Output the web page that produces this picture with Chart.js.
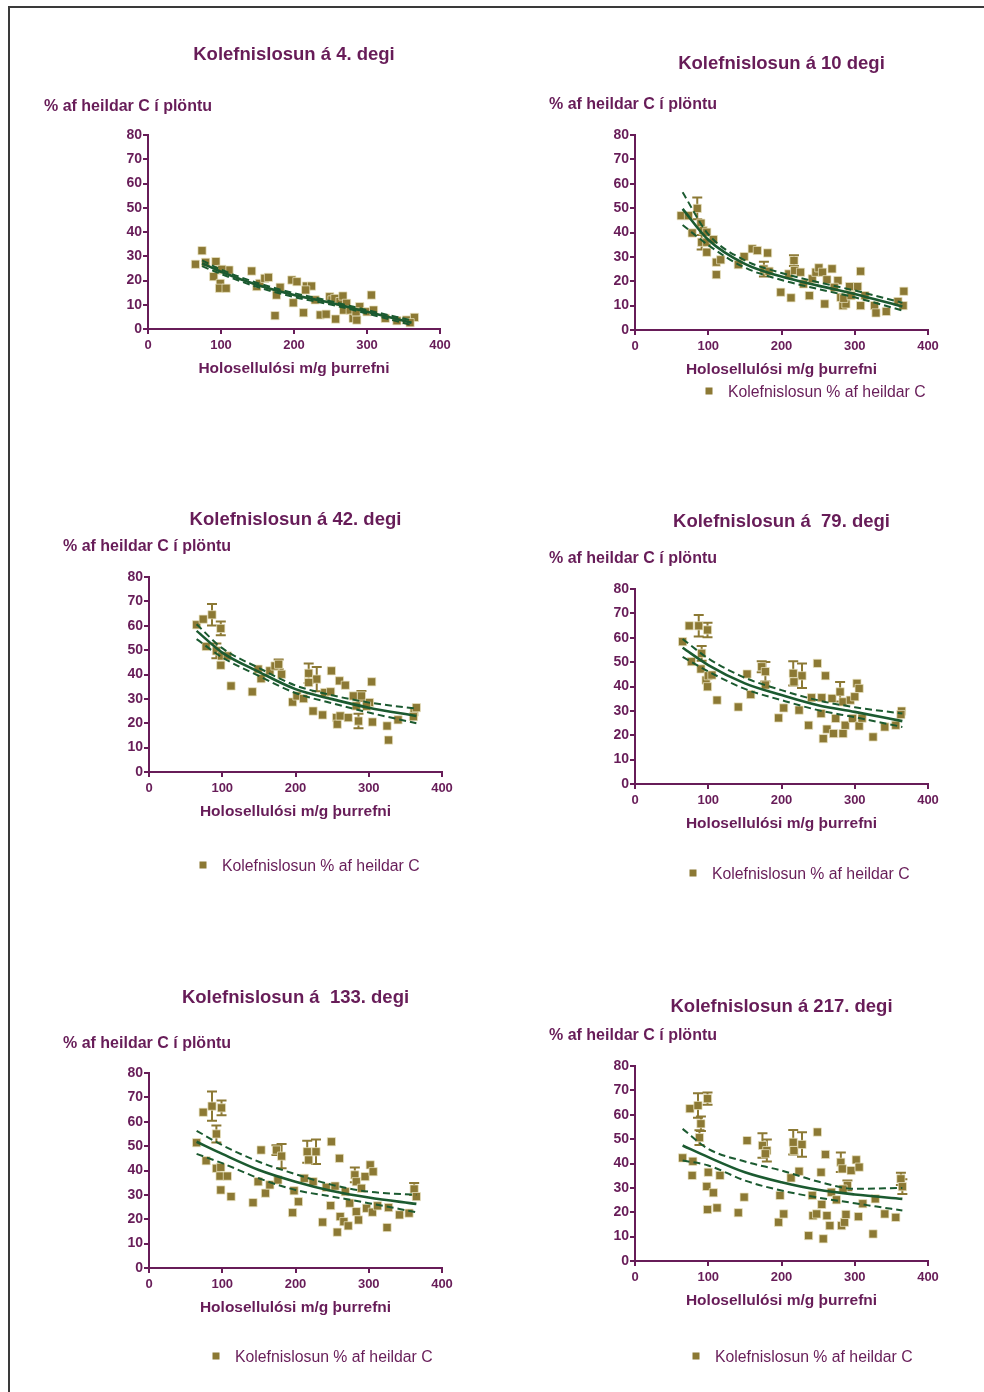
<!DOCTYPE html>
<html>
<head>
<meta charset="utf-8">
<title>Kolefnislosun</title>
<script src="https://cdn.jsdelivr.net/npm/chart.js@4.4.1/dist/chart.umd.min.js"></script>
<style>
  html, body { margin: 0; padding: 0; background: #fff; }
  #page { position: relative; width: 984px; height: 1392px; overflow: hidden; }
  #frame { position: absolute; left: 8px; top: 6px; right: -10px; bottom: -10px;
           border-top: 2px solid #3a3a3a; border-left: 2px solid #3a3a3a; }
  canvas { position: absolute; }
</style>
</head>
<body>
<div id="page"><div id="frame"></div></div>
<script>
// tick labels
const xTicks = [0, 100, 200, 300, 400];
const yTicks = [0, 10, 20, 30, 40, 50, 60, 70, 80];

// texts
const titles = [
    "Kolefnislosun á 4. degi",
    "Kolefnislosun á 10 degi",
    "Kolefnislosun á 42. degi",
    "Kolefnislosun á  79. degi",
    "Kolefnislosun á  133. degi",
    "Kolefnislosun á 217. degi"
];
const yLabel = "% af heildar C í plöntu";
const xLabel = "Holosellulósi m/g þurrefni";
const legendLabel = "Kolefnislosun % af heildar C";

// points: [holosellulósi, % af heildar C, error (optional)]
const day4Points = [[65,26.7],[74,32.3],[79,27.5],[93,27.8],[95,24.3],[90,21.6],[99,18.8],[98,16.8],[107,16.8],[111,24.3],
    [101,24.6],[142,23.9],[149,17.5],[153,18.8],[160,20.9],[165,21.3],[174,5.5],[176,14],[181,17.2],[197,20.2],
    [204,19.5],[199,10.8],[213,6.7],[217,17.7],[224,17.7],[216,16.1],[229,12],[236,5.8],[244,6.1],[249,13.3],
    [252,12],[256,12.6],[257,4.1],[263,11.3],[267,13.6],[268,7.8],[272,10.6],[277,7.8],[281,4.4],[286,3.7],
    [290,9.2],[285,7.1],[300,7.1],[306,14],[309,7.8],[325,4.4],[341,3.4],[354,3.7],[365,4.8],[359,2.6]];

const day10Points = [[63,46.9],[73,46.9],[78,39.8],[85,49.9,4.5],[90,43.8],[93,40.8],[98,40.1],[91,36,3],[98,31.9],[98,36],
    [107,37.1],[111,27.8],[111,22.7],[117,28.8],[141,26.8],[149,30.1],[160,33.3],[167,32.6],[181,31.6],[176,25,3],
    [183,24.1],[199,15.5],[210,23],[213,13.2],[217,28.5,2.2],[218,24.4],[226,23.7],[230,18.9],[238,14.1],[242,21],
    [247,23.7],[251,25.5],[256,23.7],[259,10.7],[262,20.6],[269,25.1],[277,20.3],[272,17.5],[281,13.4],[284,10],
    [288,10.7],[285,13],[293,17.8],[295,14.1],[304,17.8],[308,24.1],[308,10],[314,14.1],[327,10],[329,7],
    [343,7.6],[359,11.7],[366,10],[367,15.9]];

const day42Points = [[65,60.4],[74,62.7],[86,64.5,4.4],[98,58.9,2.8],[78,51.5],[92,49.7,3],[99,47.6],[98,43.8],[112,35.3],[107,47.6],
    [141,32.9],[149,42.2],[153,38.3],[165,41.5],[172,43.5],[177,44.2,2],[181,40.1],[196,28.7],[202,31.2],[211,30.1],
    [218,40.5,4],[229,38.1,5],[218,36.7],[224,25],[237,23.4],[240,32.6],[248,32.9],[249,41.5],[260,37.4],[268,35.6],
    [256,22.3],[257,19.6],[261,23],[272,22.3],[279,31.2],[283,27.1],[286,20.9,3],[290,31.2,2],[301,28.5],[304,37],
    [305,20.5],[297,27],[325,18.9],[327,13.1],[340,21.4],[362,24.6],[365,26.4],[361,22.7]];

const day79Points = [[74,64.9],[87,64.9,4.4],[99,63.2,3],[65,58.4],[91,53.6,3],[77,50.2],[90,47.2],[97,42.6],[100,44.4],[105,44.7],
    [99,39.9],[112,34.4],[141,31.6],[153,45.1],[158,36.7],[173,48.1,2.3],[178,46.1,4],[178,40.6],[196,27.1],[203,31.2],
    [216,45.4,5],[228,44.4,5],[217,41.9],[224,30.3],[237,24.1],[241,35.4],[249,49.5],[255,35.4],[260,44.4],[254,28.9],
    [257,18.6],[262,22.5],[269,35.1],[271,20.7],[274,26.9],[280,37.8,4],[284,33.7],[284,20.7],[287,24.1],[294,34.4],
    [297,26.9],[300,35.8],[303,41.3],[306,39.2],[306,23.8],[310,27],[325,19.3],[341,23.4],[356,24.1],[364,29.9],[363,28.5]];

const day133Points = [[74,63.9],[86,66.4,6],[99,65.7,3],[92,55,3.5],[65,51.4],[78,44],[92,40.9],[98,41.3],[97,37.7],[107,37.7],
    [98,32],[112,29.3],[142,26.8],[149,35.4],[153,48.4],[159,30.7],[165,34.1],[174,48.4,2],[181,45.9,5],[176,36.1],
    [196,22.7],[198,31.7],[204,27.2],[212,36.8],[216,47.7,4.5],[218,44.3],[228,47.7,5],[224,35.4],[237,18.8],[242,33.1],
    [248,25.6],[249,51.8],[254,33.6],[257,14.7],[260,45],[261,21.1],[266,19],[268,31.3],[272,17.3],[274,26.6],
    [281,38.2,3],[283,35.4],[283,23.1],[286,19.7],[290,32.7],[295,37.5],[302,42.3],[306,39.5],[297,24.5],[305,22.9],
    [312,25.5],[327,24.8],[325,16.6],[342,21.8],[355,22.5],[362,32.4,2.5],[365,29.3]];

const day217Points = [[75,62.5],[86,63.8,5],[99,66.6,2.5],[90,56.3,3],[88,50.6,3],[65,42.3],[79,40.9],[78,35.1],[100,36.4],[116,35.1],
    [98,30.6],[107,28],[99,21.1],[112,21.8],[141,19.8],[149,26.2],[153,49.4],[174,47.4,5],[180,45.3,4.5],[178,44],
    [196,15.9],[203,19.3],[198,26.9],[213,34.1],[216,48.7,5],[217,45.3],[228,47.8,5],[224,36.8],[237,10.4],[242,26.9],
    [243,18.6],[248,19.3],[249,52.9],[254,36.4],[255,23.2],[257,9.1],[260,43.7],[262,18.6],[266,14.5],[268,28.2],
    [275,25.1],[281,40.5,4],[283,37.8],[282,14.5],[286,15.9],[288,19.1],[290,31,2],[284,29.5],[295,37.1],[302,41.5],
    [306,38.5],[305,18.2],[311,23.5],[325,11.1],[328,25.5],[341,19.3],[356,17.9],[363,33.7,2.5],[365,30.5,3]];

// fitted curve and 95% bands, read at these x values
const fitX4 = [74, 100, 150, 200, 250, 300, 361];
const fitX = [65, 100, 150, 200, 250, 300, 365];

const day4Fit = [27.1, 23.6, 18.1, 14, 10.8, 7.1, 2.6];
const day4Upper = [28.3, 24.5, 19, 14.8, 11.5, 7.8, 3.6];
const day4Lower = [25.9, 22.7, 17.3, 13.2, 10.1, 6.4, 1.6];

const day10Fit = [49.7, 37, 27.1, 21.9, 18.2, 14.8, 9.6];
const day10Upper = [56.5, 39.3, 28.6, 23.4, 19.6, 16.2, 11.2];
const day10Lower = [43.1, 34.8, 25.6, 20.5, 16.8, 13.4, 8];

const day42Fit = [57.9, 49, 41.1, 34, 29.9, 26.4, 23];
const day42Upper = [60.6, 50.8, 42.7, 35.5, 31.5, 28.5, 26];
const day42Lower = [54.5, 47, 39.4, 32.4, 28.2, 24.4, 20];

const day79Fit = [55.9, 48.8, 41.3, 36.5, 32.3, 29.6, 25.8];
const day79Upper = [59.5, 51.5, 43.6, 38.5, 34.3, 31.5, 28.9];
const day79Lower = [52.2, 46.2, 39, 34.4, 30.3, 27.4, 23.4];

const day133Fit = [51.8, 46.8, 40.2, 35.4, 31.6, 28.9, 26.3];
const day133Upper = [56.3, 50.4, 43.6, 38.5, 34.1, 31.3, 30];
const day133Lower = [46.8, 43, 36.8, 32, 29.3, 26.6, 22.9];

const day217Fit = [47.4, 42.6, 36.4, 32.3, 29.2, 27.3, 25.5];
const day217Upper = [54.2, 46, 40.8, 37.1, 32.6, 29.6, 30];
const day217Lower = [41.2, 39.2, 33, 28.9, 26, 23.7, 20.7];

const panels = [
    { points: day4Points, fx: fitX4, fit: day4Fit, up: day4Upper, lo: day4Lower },
    { points: day10Points, fx: fitX, fit: day10Fit, up: day10Upper, lo: day10Lower },
    { points: day42Points, fx: fitX, fit: day42Fit, up: day42Upper, lo: day42Lower },
    { points: day79Points, fx: fitX, fit: day79Fit, up: day79Upper, lo: day79Lower },
    { points: day133Points, fx: fitX, fit: day133Fit, up: day133Upper, lo: day133Lower },
    { points: day217Points, fx: fitX, fit: day217Fit, up: day217Upper, lo: day217Lower }
];

// page placement of each panel (plot area edges, title / label / legend rows)
const layouts = [
    { left: 148, right: 440, top: 135, bottom: 329, titleY: 53, labelX: 44, labelY: 105, legendX: null, legendY: null },
    { left: 635, right: 928, top: 135, bottom: 330, titleY: 62, labelX: 549, labelY: 103, legendX: 709, legendY: 391 },
    { left: 149, right: 442, top: 577, bottom: 772, titleY: 518, labelX: 63, labelY: 545, legendX: 203, legendY: 865 },
    { left: 635, right: 928, top: 589, bottom: 784, titleY: 520, labelX: 549, labelY: 557, legendX: 693, legendY: 873 },
    { left: 149, right: 442, top: 1073, bottom: 1268, titleY: 996, labelX: 63, labelY: 1042, legendX: 216, legendY: 1356 },
    { left: 635, right: 928, top: 1066, bottom: 1261, titleY: 1005, labelX: 549, labelY: 1034, legendX: 696, legendY: 1356 }
];

const purple = "#671c58";
const olive = "#8c7934";
const green = "#1b5a30";
const font = '"Liberation Sans", Arial, Helvetica, sans-serif';
const Y_W = 40, X_H = 50;
const TEXT_DY = 1.5;

const errorBars = {
    id: "errorBars",
    beforeDatasetsDraw(chart) {
        const ctx = chart.ctx;
        const xs = chart.scales.x, ys = chart.scales.y;
        ctx.save();
        ctx.strokeStyle = olive;
        ctx.lineWidth = 2;
        chart.data.datasets[0].data.forEach(p => {
            if (!p.err) return;
            const px = xs.getPixelForValue(p.x);
            const y1 = ys.getPixelForValue(p.y + p.err);
            const y2 = ys.getPixelForValue(p.y - p.err);
            ctx.beginPath();
            ctx.moveTo(px, y1); ctx.lineTo(px, y2);
            ctx.moveTo(px - 5, y1); ctx.lineTo(px + 5, y1);
            ctx.moveTo(px - 5, y2); ctx.lineTo(px + 5, y2);
            ctx.stroke();
        });
        ctx.restore();
    }
};

const panelText = {
    id: "panelText",
    afterDraw(chart, args, o) {
        const ctx = chart.ctx;
        const a = chart.chartArea;
        ctx.save();
        ctx.textBaseline = "middle";
        ctx.fillStyle = purple;
        ctx.font = "bold 18.5px " + font;
        ctx.textAlign = "center";
        ctx.fillText(o.title, (a.left + a.right) / 2, o.titleY + TEXT_DY);
        ctx.font = "bold 16px " + font;
        ctx.textAlign = "left";
        ctx.fillText(yLabel, o.labelX, o.labelY + TEXT_DY);
        if (o.legendX !== null) {
            ctx.fillStyle = olive;
            ctx.fillRect(o.legendX - 3.5, o.legendY - 3.5, 7, 7);
            ctx.fillStyle = purple;
            ctx.font = "15.8px " + font;
            ctx.fillText(legendLabel, o.legendX + 19, o.legendY + TEXT_DY);
        }
        ctx.restore();
    }
};

const page = document.getElementById("page");

panels.forEach((p, i) => {
    const L = layouts[i];
    const bx = L.labelX - 10;
    const by = L.titleY - 25;
    const bw = L.right + 40 - bx;
    const bh = (L.legendY ? L.legendY + 20 : L.bottom + 60) - by;

    const cv = document.createElement("canvas");
    cv.width = bw;
    cv.height = bh;
    cv.style.left = bx + "px";
    cv.style.top = by + "px";
    page.appendChild(cv);

    const curve = (vals) => p.fx.map((x, k) => ({ x: x, y: vals[k] }));

    new Chart(cv.getContext("2d"), {
        type: "scatter",
        data: {
            datasets: [
                {
                    label: legendLabel,
                    data: p.points.map(q => ({ x: q[0], y: q[1], err: q[2] || 0 })),
                    backgroundColor: olive,
                    borderColor: "rgba(235, 228, 195, 0.9)",
                    borderWidth: 0.8,
                    pointStyle: "rect",
                    pointRadius: 5.8,
                    clip: false,
                    order: 2
                },
                {
                    label: "fit",
                    data: curve(p.fit),
                    showLine: true,
                    borderColor: green,
                    borderWidth: 2.6,
                    pointRadius: 0,
                    cubicInterpolationMode: "monotone",
                    clip: false,
                    order: 0
                },
                {
                    label: "upper",
                    data: curve(p.up),
                    showLine: true,
                    borderColor: green,
                    borderWidth: 2,
                    borderDash: [7, 4],
                    pointRadius: 0,
                    cubicInterpolationMode: "monotone",
                    clip: false,
                    order: 1
                },
                {
                    label: "lower",
                    data: curve(p.lo),
                    showLine: true,
                    borderColor: green,
                    borderWidth: 2,
                    borderDash: [7, 4],
                    pointRadius: 0,
                    cubicInterpolationMode: "monotone",
                    clip: false,
                    order: 1
                }
            ]
        },
        options: {
            responsive: false,
            animation: false,
            events: [],
            layout: {
                padding: {
                    left: L.left - bx - Y_W,
                    top: L.top - by,
                    right: bx + bw - L.right,
                    bottom: by + bh - L.bottom - X_H
                }
            },
            plugins: {
                legend: { display: false },
                tooltip: { enabled: false },
                panelText: {
                    title: titles[i],
                    titleY: L.titleY - by,
                    labelX: L.labelX - bx,
                    labelY: L.labelY - by,
                    legendX: L.legendX === null ? null : L.legendX - bx,
                    legendY: L.legendY === null ? null : L.legendY - by
                }
            },
            scales: {
                x: {
                    type: "linear",
                    min: 0,
                    max: 400,
                    afterBuildTicks: s => { s.ticks = xTicks.map(v => ({ value: v })); },
                    afterFit: s => { s.height = X_H; },
                    grid: { drawOnChartArea: false, drawTicks: true, tickLength: 5, color: purple, lineWidth: 2 },
                    border: { color: purple, width: 2 },
                    ticks: { color: purple, padding: 4, font: { family: font, size: 13, weight: "bold" } },
                    title: {
                        display: true,
                        text: xLabel,
                        color: purple,
                        padding: { top: 0, bottom: 1 },
                        font: { family: font, size: 15.5, weight: "bold" }
                    }
                },
                y: {
                    type: "linear",
                    min: 0,
                    max: 80,
                    afterBuildTicks: s => { s.ticks = yTicks.map(v => ({ value: v })); },
                    afterFit: s => { s.width = Y_W; },
                    grid: { drawOnChartArea: false, drawTicks: true, tickLength: 5, color: purple, lineWidth: 2 },
                    border: { color: purple, width: 2 },
                    ticks: { color: purple, padding: 1, font: { family: font, size: 14, weight: "bold" } }
                }
            }
        },
        plugins: [errorBars, panelText]
    });
});
</script>
</body>
</html>
